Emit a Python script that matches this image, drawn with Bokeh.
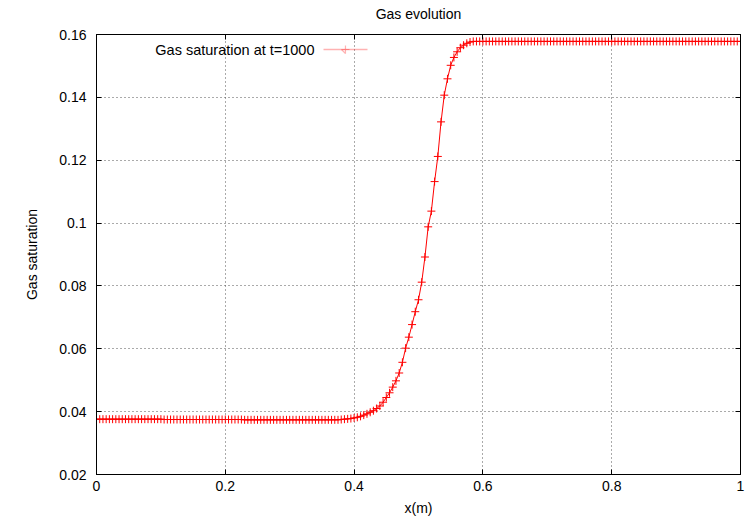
from bokeh.plotting import figure
from bokeh.models import (FixedTicker, CustomJSTickFormatter, LinearAxis,
                          PolyAnnotation, Label, Range1d)
from bokeh.embed import file_html
from bokeh.resources import INLINE

# ---- data ----
x_pos = [
    0.0, 0.005, 0.01, 0.015, 0.02, 0.025, 0.03, 0.035, 0.04, 0.045,
    0.05, 0.055, 0.06, 0.065, 0.07, 0.075, 0.08, 0.085, 0.09, 0.095,
    0.1, 0.105, 0.11, 0.115, 0.12, 0.125, 0.13, 0.135, 0.14, 0.145,
    0.15, 0.155, 0.16, 0.165, 0.17, 0.175, 0.18, 0.185, 0.19, 0.195,
    0.2, 0.205, 0.21, 0.215, 0.22, 0.225, 0.23, 0.235, 0.24, 0.245,
    0.25, 0.255, 0.26, 0.265, 0.27, 0.275, 0.28, 0.285, 0.29, 0.295,
    0.3, 0.305, 0.31, 0.315, 0.32, 0.325, 0.33, 0.335, 0.34, 0.345,
    0.35, 0.355, 0.36, 0.365, 0.37, 0.375, 0.38, 0.385, 0.39, 0.395,
    0.4, 0.405, 0.41, 0.415, 0.42, 0.425, 0.43, 0.435, 0.44, 0.445,
    0.45, 0.455, 0.46, 0.465, 0.47, 0.475, 0.48, 0.485, 0.49, 0.495,
    0.5, 0.505, 0.51, 0.515, 0.52, 0.525, 0.53, 0.535, 0.54, 0.545,
    0.55, 0.555, 0.56, 0.565, 0.57, 0.575, 0.58, 0.585, 0.59, 0.595,
    0.6, 0.605, 0.61, 0.615, 0.62, 0.625, 0.63, 0.635, 0.64, 0.645,
    0.65, 0.655, 0.66, 0.665, 0.67, 0.675, 0.68, 0.685, 0.69, 0.695,
    0.7, 0.705, 0.71, 0.715, 0.72, 0.725, 0.73, 0.735, 0.74, 0.745,
    0.75, 0.755, 0.76, 0.765, 0.77, 0.775, 0.78, 0.785, 0.79, 0.795,
    0.8, 0.805, 0.81, 0.815, 0.82, 0.825, 0.83, 0.835, 0.84, 0.845,
    0.85, 0.855, 0.86, 0.865, 0.87, 0.875, 0.88, 0.885, 0.89, 0.895,
    0.9, 0.905, 0.91, 0.915, 0.92, 0.925, 0.93, 0.935, 0.94, 0.945,
    0.95, 0.955, 0.96, 0.965, 0.97, 0.975, 0.98, 0.985, 0.99, 0.995,
    1.0,
]

gas_saturation = [
    0.0376, 0.0376, 0.0376, 0.0376, 0.0376, 0.0376, 0.0376, 0.0376, 0.0376, 0.0376,
    0.0376, 0.0376, 0.0376, 0.0376, 0.0376, 0.0376, 0.0376, 0.0376, 0.0376, 0.0376,
    0.0376, 0.0375, 0.0375, 0.0375, 0.0375, 0.0375, 0.0375, 0.0375, 0.0375, 0.0375,
    0.0375, 0.0375, 0.0375, 0.0375, 0.0375, 0.0375, 0.0375, 0.0375, 0.0375, 0.0375,
    0.0375, 0.0375, 0.0375, 0.0375, 0.0375, 0.0375, 0.0374, 0.0374, 0.0374, 0.0374,
    0.0374, 0.0374, 0.0374, 0.0374, 0.0374, 0.0374, 0.0374, 0.0374, 0.0374, 0.0374,
    0.0374, 0.0374, 0.0374, 0.0374, 0.0374, 0.0374, 0.0374, 0.0374, 0.0374, 0.0374,
    0.0374, 0.0374, 0.0374, 0.0374, 0.0374, 0.0374, 0.0375, 0.0376, 0.0377, 0.0378,
    0.0380, 0.0382, 0.0385, 0.0389, 0.0393, 0.0398, 0.0403, 0.0410, 0.0418, 0.0430,
    0.0445, 0.0460, 0.0478, 0.0498, 0.0523, 0.0557, 0.0602, 0.0637, 0.0677, 0.0718,
    0.0756, 0.0812, 0.0892, 0.0988, 0.1038, 0.1132, 0.1212, 0.1322, 0.1407, 0.1459,
    0.1502, 0.1527, 0.1545, 0.1558, 0.1566, 0.1572, 0.1576, 0.1578, 0.1578, 0.1578,
    0.1578, 0.1578, 0.1578, 0.1578, 0.1578, 0.1578, 0.1578, 0.1578, 0.1578, 0.1578,
    0.1578, 0.1578, 0.1578, 0.1578, 0.1578, 0.1578, 0.1578, 0.1578, 0.1578, 0.1578,
    0.1578, 0.1578, 0.1578, 0.1578, 0.1578, 0.1578, 0.1578, 0.1578, 0.1578, 0.1578,
    0.1578, 0.1578, 0.1578, 0.1578, 0.1578, 0.1578, 0.1578, 0.1578, 0.1578, 0.1578,
    0.1578, 0.1578, 0.1578, 0.1578, 0.1578, 0.1578, 0.1578, 0.1578, 0.1578, 0.1578,
    0.1578, 0.1578, 0.1578, 0.1578, 0.1578, 0.1578, 0.1578, 0.1578, 0.1578, 0.1578,
    0.1578, 0.1578, 0.1578, 0.1578, 0.1578, 0.1578, 0.1578, 0.1578, 0.1578, 0.1578,
    0.1578, 0.1578, 0.1578, 0.1578, 0.1578, 0.1578, 0.1578, 0.1578, 0.1578, 0.1578,
    0.1578,
]

x_ticks = [0, 0.2, 0.4, 0.6, 0.8, 1.0]
y_ticks = [0.02, 0.04, 0.06, 0.08, 0.1, 0.12, 0.14, 0.16]

title_text = "Gas evolution"
x_label = "x(m)"
y_label = "Gas saturation"
series_label = "Gas saturation at t=1000"

FONT = "Liberation Sans"
FS = "14px"
RED = "#ff0000"

p = figure(width=746, height=521, output_backend="svg", toolbar_location=None,
           x_range=Range1d(0, 1), y_range=Range1d(0.02, 0.16),
           min_border_left=96, min_border_right=6, min_border_top=34,
           min_border_bottom=47)

fmt = CustomJSTickFormatter(code="return String(Math.round(tick*100)/100);")
blank = CustomJSTickFormatter(code="return '';")

for ax, ticks in ((p.xaxis[0], x_ticks), (p.yaxis[0], y_ticks)):
    ax.ticker = FixedTicker(ticks=ticks)
    ax.formatter = fmt
    ax.major_tick_in = 5
    ax.major_tick_out = 0
    ax.minor_tick_line_color = None
    ax.major_tick_line_color = "black"
    ax.axis_line_color = "black"
    ax.major_label_text_font = FONT
    ax.major_label_text_font_size = FS
    ax.major_label_text_color = "black"
    ax.axis_label_text_font = FONT
    ax.axis_label_text_font_size = FS
    ax.axis_label_text_font_style = "normal"
    ax.axis_label_text_color = "black"

p.xaxis[0].axis_label = x_label
p.yaxis[0].axis_label = y_label
p.xaxis[0].major_label_standoff = 6
p.xaxis[0].axis_label_standoff = 6
p.yaxis[0].major_label_standoff = 10
p.yaxis[0].axis_label_standoff = 16

# mirrored ticks on the right, and on top (top axis also carries the title)
right_ax = LinearAxis(ticker=FixedTicker(ticks=y_ticks), formatter=blank,
                      major_tick_in=5, major_tick_out=0,
                      minor_tick_line_color=None, major_tick_line_color="black",
                      axis_line_color="black", major_label_text_font_size="0px",
                      major_label_standoff=0)
p.add_layout(right_ax, "right")

top_ax = LinearAxis(ticker=FixedTicker(ticks=x_ticks), formatter=blank,
                    major_tick_in=5, major_tick_out=0,
                    minor_tick_line_color=None, major_tick_line_color="black",
                    axis_line_color="black", major_label_text_font_size="0px",
                    major_label_standoff=0,
                    axis_label=title_text, axis_label_standoff=13,
                    axis_label_text_font=FONT, axis_label_text_font_size=FS,
                    axis_label_text_font_style="normal",
                    axis_label_text_color="black")
p.add_layout(top_ax, "above")

p.xgrid.ticker = FixedTicker(ticks=x_ticks)
p.ygrid.ticker = FixedTicker(ticks=y_ticks)
for g in (p.xgrid[0], p.ygrid[0]):
    g.grid_line_color = "#555555"
    g.grid_line_dash = "1 3"
    g.grid_line_width = 1

p.outline_line_color = "black"
p.outline_line_width = 1
p.background_fill_color = "white"
p.border_fill_color = "white"

p.line(x_pos, gas_saturation, line_color=RED, line_width=1)
p.scatter(x_pos, gas_saturation, marker="cross", size=8,
          line_color=RED, line_width=1)

# key: text, then a line sample with a "+" marker, gnuplot style
p.add_layout(Label(x=218, y=425, x_units="screen", y_units="screen",
                   text=series_label, text_align="right", text_baseline="middle",
                   text_font=FONT, text_font_size="14.5px", text_color="black"))
key_y = 0.15523
p.add_layout(PolyAnnotation(xs=[0.3525, 0.4208], ys=[key_y, key_y],
                            line_color=RED, line_width=1.6, fill_alpha=0))
kx, dx, dy = 0.3866, 0.0062, 0.00127
p.add_layout(PolyAnnotation(xs=[kx - dx, kx + dx, kx, kx, kx],
                            ys=[key_y, key_y, key_y, key_y + dy, key_y - dy],
                            line_color=RED, line_width=1.2, fill_alpha=0))

open("out.html", "w").write(file_html(p, INLINE))
